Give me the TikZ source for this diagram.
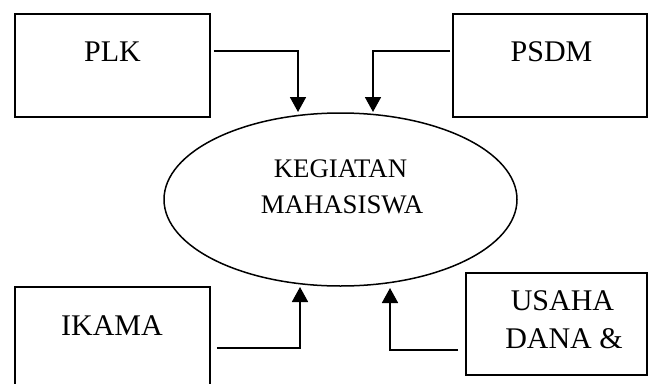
\documentclass[tikz,border=0pt]{standalone}
\usepackage{fontspec}
\setmainfont{Liberation Serif}
\usetikzlibrary{arrows.meta,shapes.geometric}
\begin{document}
\begin{tikzpicture}[x=1pt,y=-1pt,
  box/.style={draw,line width=1.8pt,rectangle,inner sep=0pt},
  lbl/.style={anchor=base,inner sep=0pt,font=\fontsize{30}{36}\selectfont},
  elab/.style={anchor=base,inner sep=0pt,font=\fontsize{26.8}{32}\selectfont},
  arr/.style={line width=1.8pt,-{Triangle[width=16pt,length=15pt]}}]
\useasboundingbox (0,0) rectangle (648,383);
\clip (0,0) rectangle (648,383);
% boxes
\node[box,minimum width=195pt,minimum height=103pt] (plk) at (112.5,65.5) {};
\node[box,minimum width=194pt,minimum height=103pt] (psdm) at (550,65.5) {};
\node[box,minimum width=195pt,minimum height=103pt] (ikama) at (112.5,338.5) {};
\node[box,minimum width=181pt,minimum height=102pt] (usaha) at (556.5,324) {};
% ellipse
\node[draw,ellipse,line width=1.5pt,inner sep=0pt,minimum width=353pt,minimum height=173pt] (keg) at (340.5,199.5) {};
% labels
\node[lbl] (plkt) at (112.5,61) {PLK};
\node[lbl] (psdmt) at (551.5,61) {PSDM};
\node[lbl] (ikamat) at (112,335) {IKAMA};
\node[lbl] (usahat1) at (562.5,310) {USAHA};
\node[lbl] (usahat2) at (564,348) {DANA \&};
\node[elab] (kegt1) at (340.5,177) {KEGIATAN};
\node[elab] (kegt2) at (342,213) {MAHASISWA};
% arrow tips near ellipse
\coordinate (t1) at (298,112);
\coordinate (t2) at (373,112);
\coordinate (t3) at (300,287);
\coordinate (t4) at (390,288);
% connectors
\draw[arr] ([xshift=3pt,yshift=14.5pt]plk.east) -| (t1);
\draw[arr] ([xshift=-2pt,yshift=14.5pt]psdm.west) -| (t2);
\draw[arr] ([xshift=6pt,yshift=-9.5pt]ikama.east) -| (t3);
\draw[arr] ([xshift=-7pt,yshift=-26pt]usaha.west) -| (t4);
\end{tikzpicture}
\end{document}
